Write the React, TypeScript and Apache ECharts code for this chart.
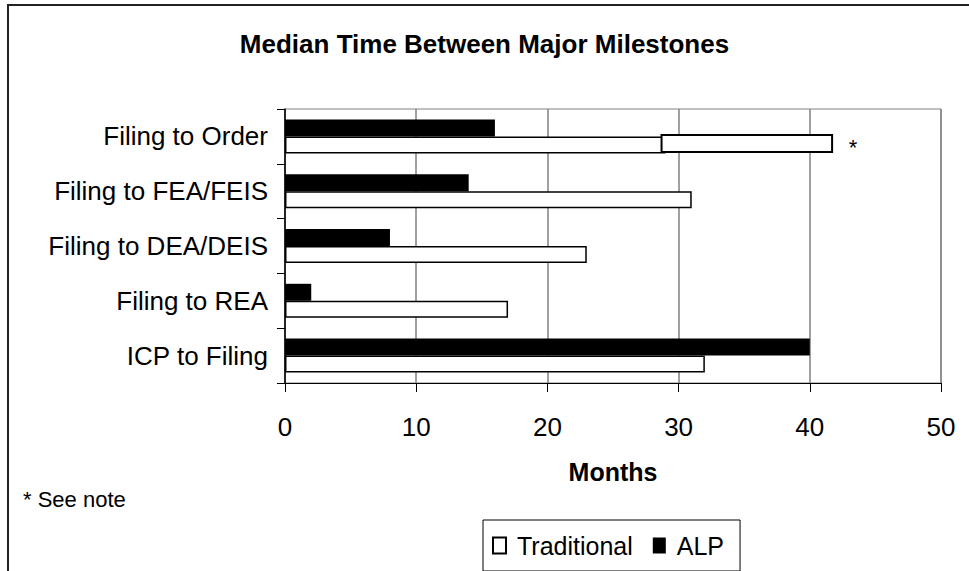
import React, { useEffect, useRef } from "react";
import * as echarts from "echarts";

const categories = ["ICP to Filing", "Filing to REA", "Filing to DEA/DEIS", "Filing to FEA/FEIS", "Filing to Order"];
const traditional = [32, 17, 23, 31, 29];
const alp = [40, 2, 8, 14, 16];
// broken-bar extension on "Filing to Order" (start, end, category)
const extension: [number, number, string][] = [[28.7, 41.7, "Filing to Order"]];
const titleText = "Median Time Between Major Milestones";
const axisName = "Months";
const noteText = "* See note";

const FONT = "'Liberation Sans', Arial, sans-serif";

export default function App() {
  const ref = useRef<HTMLDivElement>(null);
  useEffect(() => {
    document.body.style.margin = "0";
    const chart = echarts.init(ref.current!, null, { renderer: "svg" });
    chart.setOption({
      animation: false,
      backgroundColor: "#fff",
      textStyle: { fontFamily: FONT, color: "#000" },
      title: {
        text: titleText,
        left: "center",
        top: 26,
        textStyle: { fontFamily: FONT, fontSize: 26, fontWeight: "bold", color: "#000" },
      },
      grid: {
        left: 285,
        top: 109,
        right: 28,
        bottom: 188,
        show: true,
        borderColor: "#808080",
        borderWidth: 1,
        backgroundColor: "transparent",
      },
      legend: {
        data: ["Traditional", "ALP"],
        left: 483,
        top: 520,
        padding: [13, 16, 13, 9],
        borderColor: "#000",
        borderWidth: 1,
        itemWidth: 13,
        itemHeight: 16,
        itemGap: 20,
        icon: "rect",
        selectedMode: false,
        textStyle: { fontFamily: FONT, fontSize: 25, color: "#000", padding: [0, 0, 0, 6] },
      },
      xAxis: {
        type: "value",
        min: 0,
        max: 50,
        interval: 10,
        name: axisName,
        nameLocation: "middle",
        nameGap: 76,
        nameTextStyle: { fontFamily: FONT, fontSize: 25, fontWeight: "bold", color: "#000" },
        axisLine: { show: true, lineStyle: { color: "#000", width: 1 } },
        axisTick: { show: true, length: 9, lineStyle: { color: "#000" } },
        axisLabel: { fontFamily: FONT, fontSize: 26, color: "#000", margin: 31 },
        splitLine: { show: true, lineStyle: { color: "#808080", width: 1.5 } },
      },
      yAxis: {
        type: "category",
        data: categories,
        axisLine: { show: true, lineStyle: { color: "#000", width: 1.5 } },
        axisTick: { show: true, length: 8, alignWithLabel: false, lineStyle: { color: "#000" } },
        axisLabel: { fontFamily: FONT, fontSize: 26, color: "#000", margin: 17 },
        splitLine: { show: false },
      },
      series: [
        {
          name: "ALP",
          type: "bar",
          data: alp,
          barWidth: 17,
          barGap: "0%",
          itemStyle: { color: "#000", borderColor: "#000", borderWidth: 0 },
          z: 2,
        },
        {
          name: "Traditional",
          type: "bar",
          data: traditional,
          barWidth: 17,
          barGap: "0%",
          itemStyle: { color: "#fff", borderColor: "#000", borderWidth: 1.5 },
          z: 2,
        },
        {
          name: "Extension",
          type: "custom",
          encode: { x: [0, 1], y: 2 },
          data: extension,
          z: 3,
          renderItem: (params: any, api: any) => {
            const s = api.coord([api.value(0), api.value(2)]);
            const e = api.coord([api.value(1), api.value(2)]);
            return {
              type: "group",
              children: [
                {
                  type: "rect",
                  shape: { x: s[0], y: s[1] - 1.5, width: e[0] - s[0], height: 17 },
                  style: { fill: "#fff", stroke: "#000", lineWidth: 2 },
                },
                {
                  type: "text",
                  style: {
                    text: "*",
                    x: e[0] + 21,
                    y: s[1] + 11,
                    fill: "#000",
                    font: `22px ${FONT}`,
                    align: "center",
                    verticalAlign: "middle",
                  },
                },
              ],
            };
          },
        },
      ],
      graphic: [
        {
          type: "rect",
          shape: { x: 8, y: 5, width: 1000, height: 700 },
          style: { fill: "none", stroke: "#222", lineWidth: 2 },
          silent: true,
        },
        {
          type: "text",
          left: 23,
          top: 488,
          style: { text: noteText, fill: "#000", font: `22px ${FONT}` },
        },
      ],
    });
    return () => chart.dispose();
  }, []);
  return <div ref={ref} style={{ position: "absolute", left: 0, top: 0, width: 969, height: 571 }} />;
}
